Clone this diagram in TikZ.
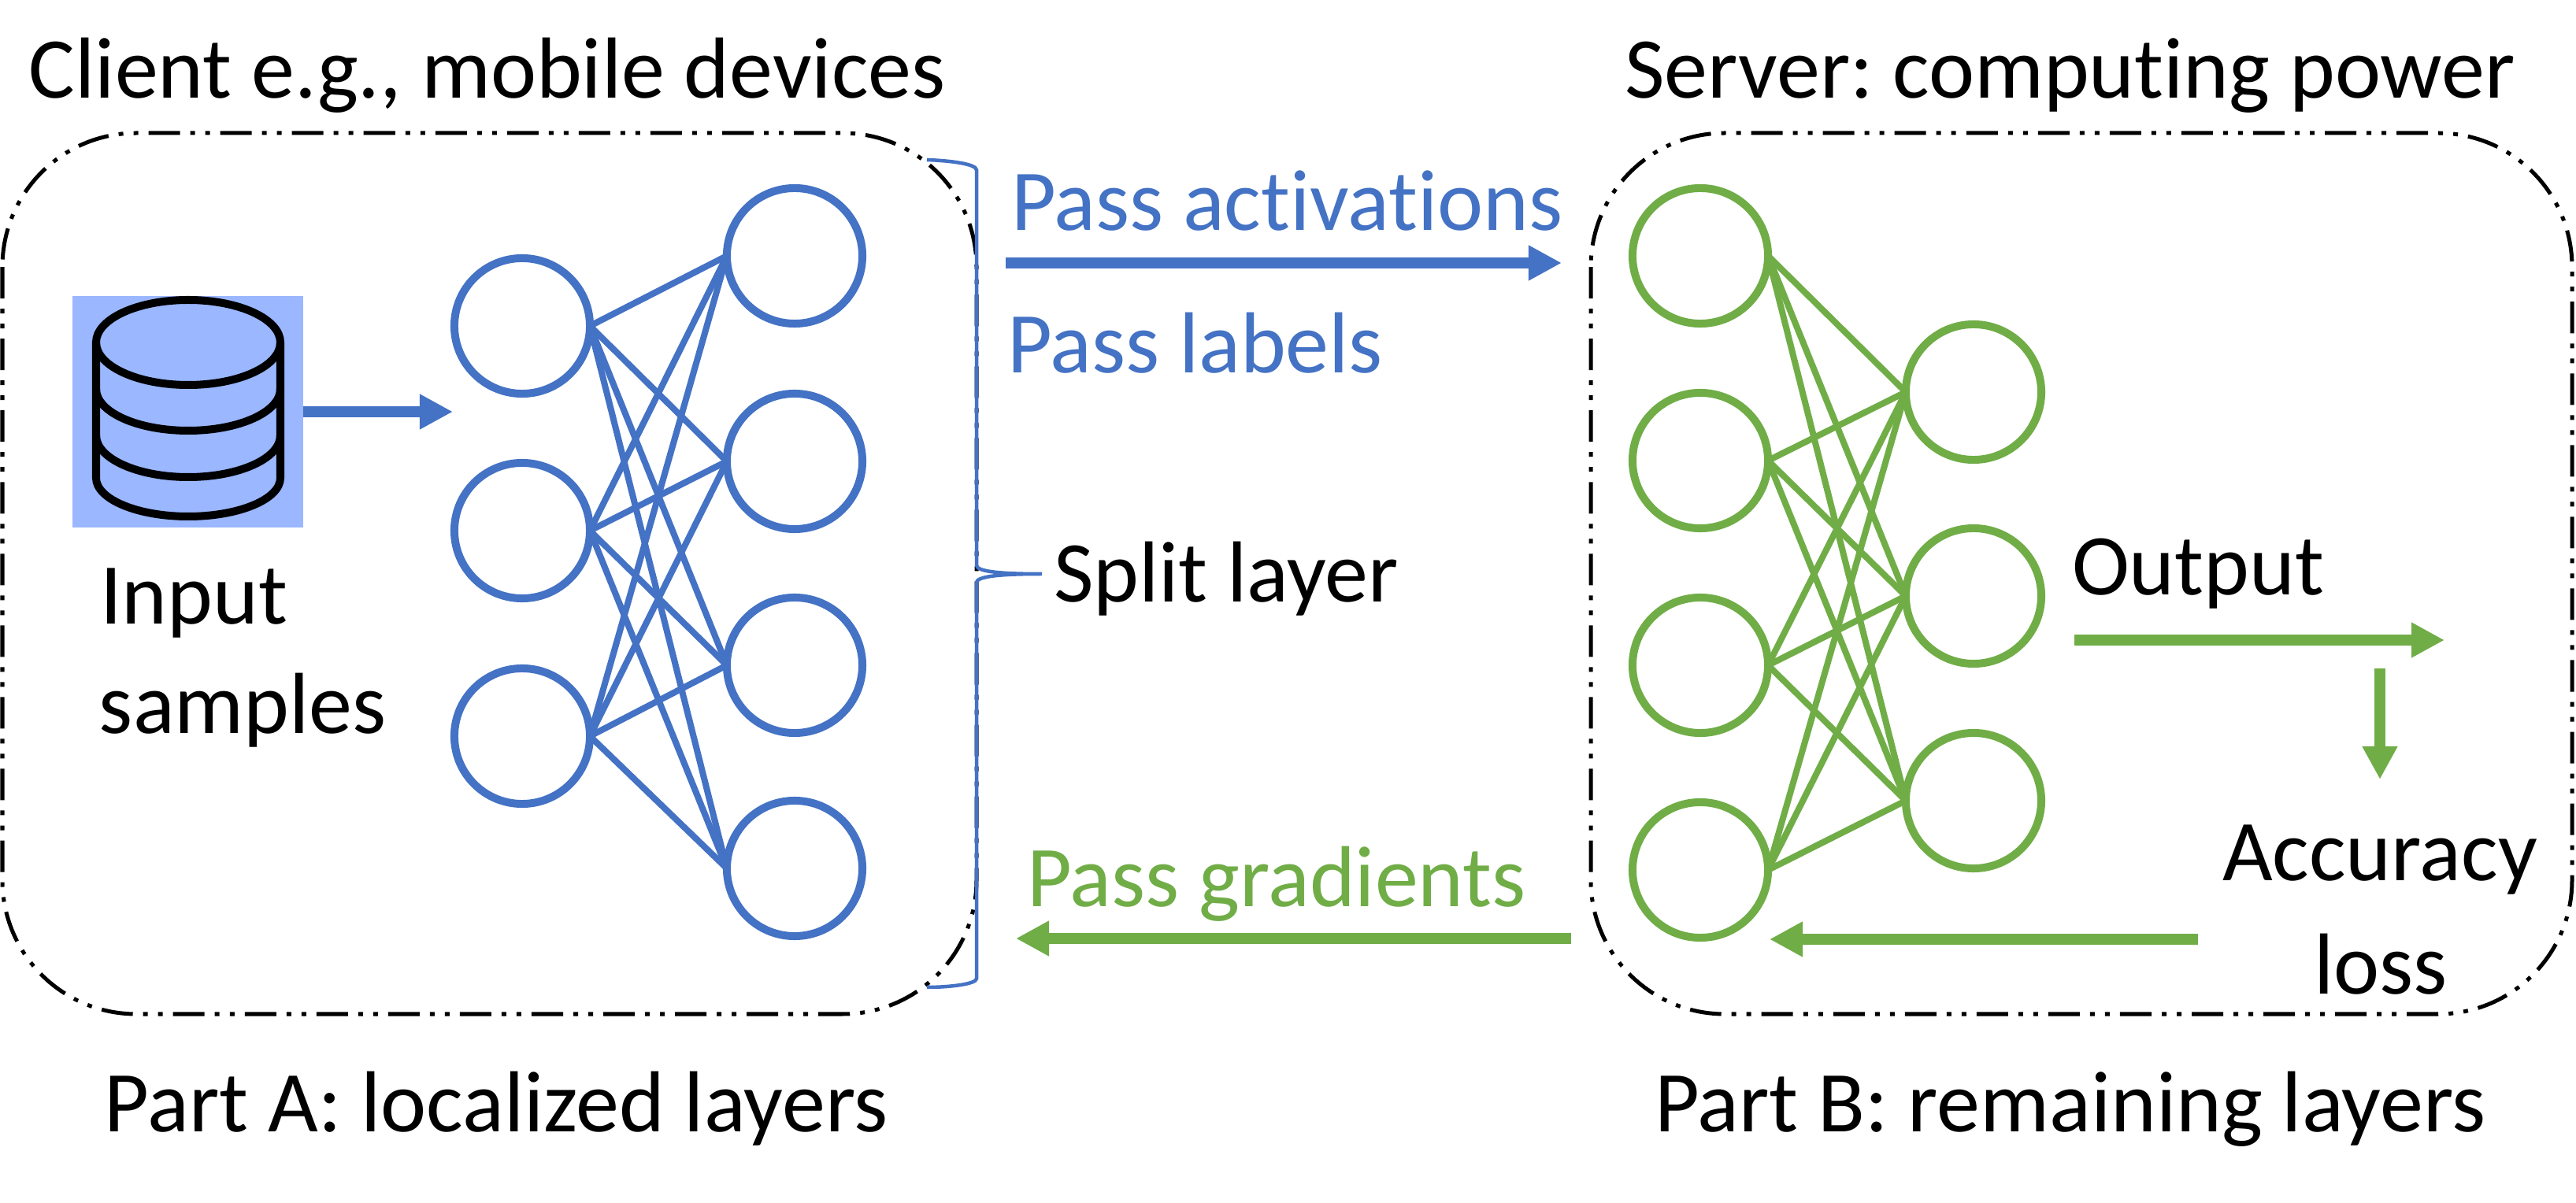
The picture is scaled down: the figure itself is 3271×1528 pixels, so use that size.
\documentclass[tikz,border=0pt]{standalone}
\usepackage{fontspec}
\setmainfont[Ligatures=CommonOff]{Carlito}
\usetikzlibrary{arrows.meta}
\definecolor{partblue}{HTML}{4472C4}
\definecolor{partgreen}{HTML}{70AD47}
\definecolor{dbfill}{HTML}{9AB7FF}
\tikzset{
  x=0.01cm, y=-0.01cm,
  lbl/.style={anchor=base west, inner sep=0pt, outer sep=0pt, font=\fontsize{31.3pt}{36pt}\selectfont},
  neuronA/.style={circle, draw=partblue, line width=0.10cm, minimum size=1.72cm, inner sep=0pt, outer sep=0pt},
  neuronB/.style={neuronA, draw=partgreen},
  edgeA/.style={draw=partblue, line width=0.08cm},
  edgeB/.style={draw=partgreen, line width=0.08cm},
  flow/.style={line width=0.14cm, -{Triangle[length=0.42cm,width=0.42cm]}},
  partbox/.style={draw=black, line width=0.05cm, rounded corners=1.7cm,
    dash pattern=on 0.40cm off 0.13cm on 0.06cm off 0.13cm on 0.06cm off 0.13cm},
  dbline/.style={draw=black, line width=0.10cm}
}
\begin{document}
\begin{tikzpicture}
\useasboundingbox (0,0) rectangle (3271,1528);

% the two partitions
\draw[partbox] (3,169) rectangle (1240,1288);
\draw[partbox] (2020,169) rectangle (3266,1288);

% database icon
\node[fill=dbfill, inner sep=0pt, outer sep=0pt, minimum width=2.93cm, minimum height=2.94cm] (db) at (238.5,523) {};
\draw[dbline] (239,435) ellipse [x radius=117, y radius=54];
\draw[dbline] (122,435) -- (122,607) arc[start angle=180, end angle=0, x radius=117, y radius=49] -- (356,435);
\draw[dbline] (122,494) arc[start angle=180, end angle=0, x radius=117, y radius=53];
\draw[dbline] (122,553) arc[start angle=180, end angle=0, x radius=117, y radius=53];

% client layers
\foreach \n/\yy in {1/414,2/674,3/935} \node[neuronA] (a\n) at (663,\yy) {};
\foreach \n/\yy in {1/325,2/586,3/845,4/1103} \node[neuronA] (c\n) at (1009,\yy) {};
\foreach \i in {1,2,3} \foreach \j in {1,2,3,4} \draw[edgeA] (a\i.east) -- (c\j.west);

% server layers
\foreach \n/\yy in {1/325,2/585,3/845,4/1105} \node[neuronB] (s\n) at (2159,\yy) {};
\foreach \n/\yy in {1/498,2/757,3/1017} \node[neuronB] (t\n) at (2506,\yy) {};
\foreach \i in {1,2,3,4} \foreach \j in {1,2,3} \draw[edgeB] (s\i.east) -- (t\j.west);

% split-layer brace
\coordinate (bt) at (1177,203);
\coordinate (bb) at (1177,1254);
\coordinate (bm) at (1323,729);
\draw[partblue, line width=0.045cm] (bt) .. controls (1205,204) and (1240,208) .. (1240,216)
  -- (1240,718) .. controls (1240,726) and (1270,729) .. (bm)
  .. controls (1270,729) and (1240,732) .. (1240,740)
  -- (1240,1243) .. controls (1240,1250) and (1205,1254) .. (bb);

% labels
\node[lbl] (client) at (37,125) {Client e.g., mobile devices};
\node[lbl] (server) at (2063,125) {Server:\hspace{-0.08em} computing power};
\node[lbl] (parta) at (133,1437) {Part A: localized layers};
\node[lbl] (partb) at (2101,1437) {Part B: remaining layers};
\node[lbl, text=partblue] (pa) at (1284,293) {Pass activations};
\node[lbl, text=partblue] (pl) at (1279,474) {Pass labels};
\node[lbl] (split) at (1338,765) {Split layer};
\node[lbl, text=partgreen] (pg) at (1304,1152) {Pass gradients};
\node[lbl] (out) at (2631,756) {Output};
\node[lbl] (acc) at (2822,1119) {Accuracy};
\node[lbl] (loss) at (2938,1263) {loss};
\node[lbl] (inp) at (127,793) {Input};
\node[lbl] (smp) at (126,932) {samples};

% data flow
\coordinate (inEnd) at (575,523);
\draw[flow, partblue] (385,523) -- (inEnd);
\coordinate (paS) at (1277,334);
\coordinate (paE) at (1983,334);
\draw[flow, partblue] (paS) -- (paE);
\coordinate (pgS) at (1995,1192);
\coordinate (pgE) at (1290,1192);
\draw[flow, partgreen] (pgS) -- (pgE);
\coordinate (outS) at (2634,813);
\coordinate (outE) at (3104,813);
\draw[flow, partgreen] (outS) -- (outE);
\coordinate (dnS) at (3022,849);
\coordinate (dnE) at (3022,990);
\draw[flow, partgreen] (dnS) -- (dnE);
\coordinate (lossS) at (2791,1193);
\coordinate (lossE) at (2247,1193);
\draw[flow, partgreen] (lossS) -- (lossE);
\end{tikzpicture}
\end{document}
